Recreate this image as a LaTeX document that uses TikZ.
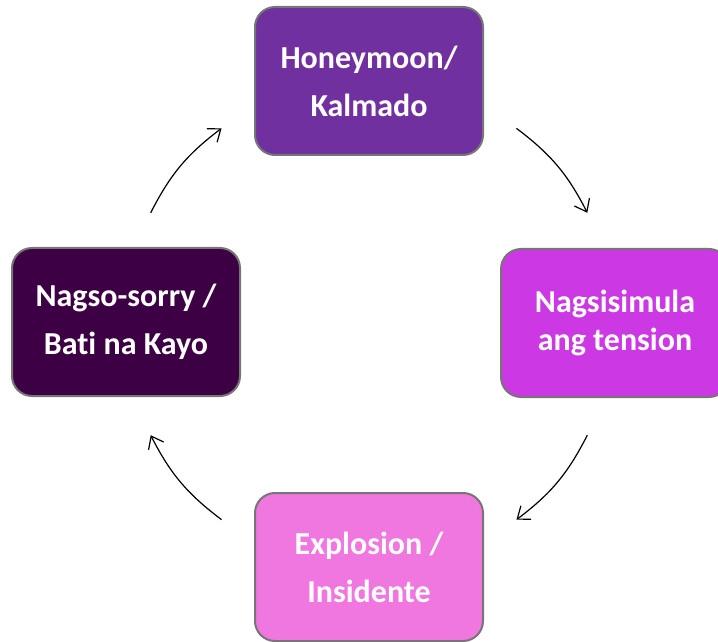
\documentclass[tikz,border=0pt]{standalone}
\usepackage{fontspec}
\setmainfont{Carlito}[Ligatures={NoCommon,NoContextual}]
\usepackage{tikz}
\usetikzlibrary{positioning,arrows.meta}
\definecolor{calmc}{HTML}{7030A0}
\definecolor{tensc}{HTML}{CB38E4}
\definecolor{explc}{HTML}{F076E0}
\definecolor{sorryc}{HTML}{3E0045}
\definecolor{bordc}{HTML}{767676}

\begin{document}
\begin{tikzpicture}[x=1pt,y=1pt]
            \tikzset{
                cyc node/.style={rectangle,rounded corners=20pt,draw=bordc,line width=2pt,minimum width=228pt,minimum height=148pt,inner sep=0,text=white,align=center,font=\fontsize{32}{48}\selectfont\bfseries},
                cyc edge/.style={bend left=13,line width=1.2pt,-{Straight Barb[length=11pt,width=17pt]}}
            }
            \useasboundingbox (0,0) rectangle (718,641);
            \node[cyc node,fill=calmc] (calm) at (369,560) {Honeymoon/\\Kalmado};
            \node[cyc node,fill=tensc,font=\fontsize{32}{38}\selectfont\bfseries] (tens) at (615,318) {Nagsisimula\\ang tension};
            \node[cyc node,fill=explc] (expl) at (369,74) {Explosion /\\Insidente};
            \node[cyc node,fill=sorryc] (sorry) at (126,319) {Nagso-sorry /\\Bati na Kayo};
            % ends of the arrows, on a circle round the middle
            \coordinate (mid) at (369,317);
            \coordinate (calm out) at ([shift={(mid)}]53:245);
            \coordinate (tens in) at ([shift={(mid)}]27:245);
            \coordinate (tens out) at ([shift={(mid)}]-27:245);
            \coordinate (expl in) at ([shift={(mid)}]-53:245);
            \coordinate (expl out) at ([shift={(mid)}]233:245);
            \coordinate (sorry in) at ([shift={(mid)}]207:245);
            \coordinate (sorry out) at ([shift={(mid)}]153:245);
            \coordinate (calm in) at ([shift={(mid)}]127:245);
            \path[draw]
                (calm out) edge[cyc edge] (tens in)
                (tens out) edge[cyc edge] (expl in)
                (expl out) edge[cyc edge] (sorry in)
                (sorry out) edge[cyc edge] (calm in)
                ;
        \end{tikzpicture}
\end{document}
